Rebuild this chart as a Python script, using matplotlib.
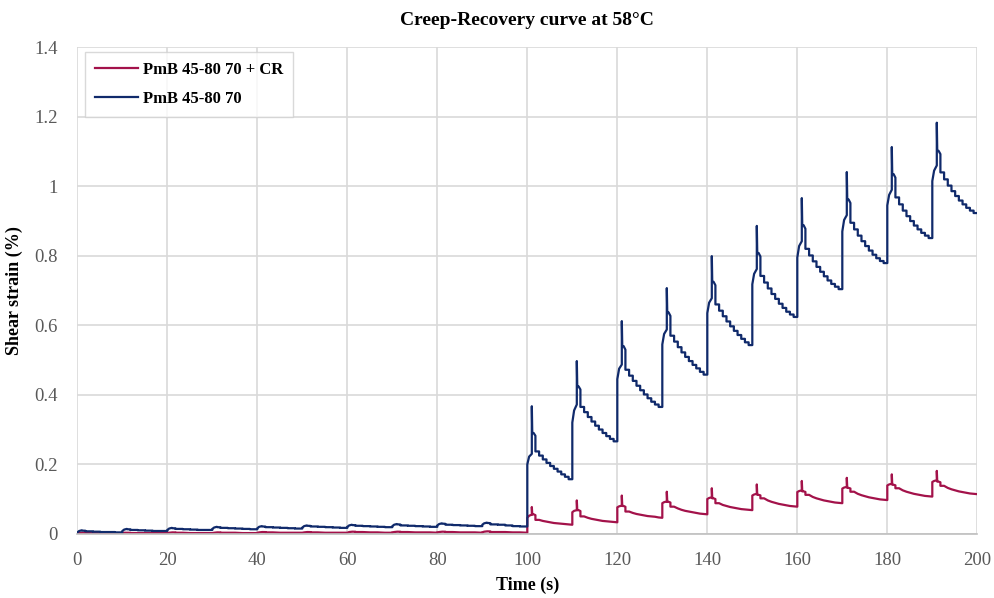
import matplotlib
matplotlib.use("Agg")
import matplotlib.pyplot as plt
from matplotlib.ticker import FuncFormatter

plt.rcParams['font.family'] = ['Liberation Serif', 'DejaVu Serif']

# cycle start times (1 s creep + 9 s recovery)
cycle_start = [0, 10, 20, 30, 40, 50, 60, 70, 80, 90,
               100, 110, 120, 130, 140, 150, 160, 170, 180, 190]

# PmB 45-80 70 (blue)
blue_creep = [
    [0.004, 0.008, 0.010], [0.008, 0.012, 0.014], [0.011, 0.015, 0.017],
    [0.014, 0.018, 0.020], [0.016, 0.020, 0.022], [0.018, 0.022, 0.024],
    [0.020, 0.024, 0.026], [0.022, 0.026, 0.028], [0.024, 0.028, 0.030],
    [0.026, 0.030, 0.032],
    [0.200, 0.222, 0.230], [0.320, 0.355, 0.372], [0.445, 0.475, 0.487],
    [0.545, 0.575, 0.588], [0.635, 0.665, 0.678], [0.718, 0.748, 0.762],
    [0.795, 0.828, 0.842], [0.870, 0.903, 0.917], [0.945, 0.975, 0.990],
    [1.015, 1.045, 1.060],
]
blue_peak = [0.010, 0.014, 0.017, 0.020, 0.022, 0.024, 0.026, 0.028, 0.030, 0.032,
             0.367, 0.497, 0.612, 0.707, 0.799, 0.886, 0.966, 1.041, 1.113, 1.183]
blue_shoulder = [0.009, 0.013, 0.016, 0.019, 0.021, 0.023, 0.025, 0.027, 0.029, 0.031,
                 0.290, 0.424, 0.540, 0.637, 0.725, 0.808, 0.888, 0.962, 1.035, 1.102]
blue_recovery = [
    [0.007, 0.006, 0.005, 0.005, 0.004],
    [0.011, 0.010, 0.009, 0.008, 0.008],
    [0.014, 0.013, 0.012, 0.011, 0.011],
    [0.017, 0.016, 0.015, 0.014, 0.013],
    [0.019, 0.018, 0.017, 0.016, 0.015],
    [0.021, 0.020, 0.019, 0.018, 0.017],
    [0.023, 0.022, 0.021, 0.020, 0.019],
    [0.024, 0.023, 0.022, 0.021, 0.020],
    [0.026, 0.025, 0.024, 0.023, 0.022],
    [0.027, 0.026, 0.024, 0.022, 0.021],
    [0.237, 0.225, 0.214, 0.204, 0.195, 0.187, 0.179, 0.171, 0.164, 0.157],
    [0.365, 0.350, 0.336, 0.323, 0.311, 0.300, 0.290, 0.281, 0.273, 0.266],
    [0.472, 0.455, 0.440, 0.426, 0.413, 0.401, 0.390, 0.380, 0.372, 0.365],
    [0.570, 0.553, 0.537, 0.522, 0.509, 0.497, 0.486, 0.476, 0.466, 0.458],
    [0.660, 0.642, 0.626, 0.611, 0.597, 0.584, 0.572, 0.561, 0.551, 0.543],
    [0.742, 0.723, 0.706, 0.690, 0.676, 0.662, 0.650, 0.639, 0.631, 0.624],
    [0.820, 0.801, 0.784, 0.768, 0.754, 0.741, 0.729, 0.719, 0.711, 0.704],
    [0.895, 0.876, 0.858, 0.842, 0.828, 0.815, 0.803, 0.793, 0.785, 0.779],
    [0.968, 0.948, 0.930, 0.914, 0.900, 0.887, 0.876, 0.866, 0.858, 0.851],
    [1.040, 1.020, 1.002, 0.986, 0.972, 0.959, 0.948, 0.938, 0.930, 0.923],
]

# PmB 45-80 70 + CR (red)
red_creep = [
    [0.001, 0.002, 0.003], [0.002, 0.003, 0.003], [0.002, 0.003, 0.004],
    [0.002, 0.003, 0.004], [0.003, 0.004, 0.005], [0.003, 0.004, 0.005],
    [0.003, 0.005, 0.006], [0.004, 0.005, 0.006], [0.004, 0.005, 0.006],
    [0.004, 0.006, 0.007],
    [0.046, 0.052, 0.055], [0.062, 0.066, 0.068], [0.076, 0.079, 0.081],
    [0.088, 0.091, 0.093], [0.100, 0.103, 0.105], [0.110, 0.113, 0.115],
    [0.120, 0.123, 0.125], [0.130, 0.133, 0.135], [0.139, 0.142, 0.144],
    [0.149, 0.152, 0.154],
]
red_peak = [0.003, 0.003, 0.004, 0.004, 0.005, 0.005, 0.006, 0.006, 0.006, 0.007,
            0.077, 0.096, 0.110, 0.121, 0.131, 0.142, 0.152, 0.161, 0.171, 0.181]
red_shoulder = [0.003, 0.003, 0.004, 0.004, 0.005, 0.005, 0.006, 0.006, 0.006, 0.007,
                0.056, 0.068, 0.080, 0.092, 0.102, 0.112, 0.122, 0.132, 0.141, 0.150]
red_recovery = [
    [0.002, 0.002, 0.001, 0.001, 0.001],
    [0.002, 0.002, 0.002, 0.002, 0.002],
    [0.003, 0.002, 0.002, 0.002, 0.002],
    [0.003, 0.003, 0.002, 0.002, 0.002],
    [0.004, 0.003, 0.003, 0.003, 0.003],
    [0.004, 0.003, 0.003, 0.003, 0.003],
    [0.005, 0.004, 0.004, 0.003, 0.003],
    [0.005, 0.004, 0.004, 0.004, 0.003],
    [0.005, 0.004, 0.004, 0.004, 0.003],
    [0.005, 0.005, 0.004, 0.004, 0.003],
    [0.040, 0.037, 0.035, 0.033, 0.031, 0.030, 0.029, 0.028, 0.027, 0.026],
    [0.050, 0.046, 0.043, 0.041, 0.039, 0.037, 0.036, 0.035, 0.034, 0.033],
    [0.064, 0.060, 0.057, 0.055, 0.053, 0.051, 0.050, 0.049, 0.047, 0.046],
    [0.078, 0.073, 0.069, 0.066, 0.064, 0.062, 0.060, 0.058, 0.057, 0.056],
    [0.088, 0.083, 0.080, 0.077, 0.075, 0.073, 0.071, 0.070, 0.069, 0.068],
    [0.102, 0.096, 0.092, 0.089, 0.086, 0.084, 0.082, 0.080, 0.079, 0.078],
    [0.112, 0.106, 0.102, 0.099, 0.096, 0.094, 0.092, 0.090, 0.089, 0.088],
    [0.121, 0.115, 0.111, 0.108, 0.105, 0.103, 0.101, 0.099, 0.098, 0.097],
    [0.131, 0.125, 0.121, 0.118, 0.115, 0.113, 0.111, 0.109, 0.108, 0.107],
    [0.138, 0.132, 0.128, 0.125, 0.122, 0.120, 0.118, 0.116, 0.115, 0.114],
]


def build_curve(creep, peak, shoulder, recovery, stepped):
    t, v = [], []
    for t0, c, p, s, rec in zip(cycle_start, creep, peak, shoulder, recovery):
        t += [t0, t0 + 0.4, t0 + 1.0, t0 + 1.0, t0 + 1.1, t0 + 1.4, t0 + 1.8]
        v += [c[0], c[1], c[2], p, s, s, s - (s - rec[0]) * 0.15]
        dt = 8.2 / len(rec)
        for k, r in enumerate(rec):
            ts = t0 + 1.8 + k * dt
            if stepped:
                t += [ts, ts + dt]
                v += [r, r]
            else:
                t += [ts + dt] if k else [ts, ts + dt]
                v += [r] if k else [r, r]
    return t, v


red_t, red_v = build_curve(red_creep, red_peak, red_shoulder, red_recovery, False)
blue_t, blue_v = build_curve(blue_creep, blue_peak, blue_shoulder, blue_recovery, True)

fig = plt.figure(figsize=(9.94, 5.98), dpi=100)
ax = fig.add_axes([0.0778, 0.1074, 0.9054, 0.8135])

ax.plot(red_t, red_v, color='#a3124a', lw=1.6, label='PmB 45-80 70 + CR')
ax.plot(blue_t, blue_v, color='#102a6b', lw=1.6, label='PmB 45-80 70')

ax.set_xlim(0, 200)
ax.set_ylim(0, 1.4)
ax.set_xticks(range(0, 201, 20))
ax.set_yticks([0, 0.2, 0.4, 0.6, 0.8, 1.0, 1.2, 1.4])
ax.yaxis.set_major_formatter(FuncFormatter(lambda v, p: f'{v:g}'))
ax.tick_params(length=0, labelsize=13.5, labelcolor='#595959')
ax.tick_params(axis='y', pad=14)
ax.tick_params(axis='x', pad=13)
ax.grid(True, color='#d9d9d9', lw=1.2)
ax.set_axisbelow(True)
for side in ['top', 'right', 'left']:
    ax.spines[side].set_visible(False)
ax.spines['bottom'].set_color('#bfbfbf')
ax.spines['bottom'].set_linewidth(1.2)

ax.set_title('Creep-Recovery curve at 58°C', fontsize=14, fontweight='bold', pad=16)
ax.set_xlabel('Time (s)', fontsize=13, fontweight='bold', labelpad=6)
ax.set_ylabel('Shear strain (%)', fontsize=13, fontweight='bold', labelpad=8)

leg = ax.legend(loc='upper left', bbox_to_anchor=(0.0086, 0.99), borderaxespad=0,
                prop={'weight': 'bold', 'size': 12}, frameon=True, fancybox=False,
                handlelength=2.6, handletextpad=0.25, labelspacing=0.75, borderpad=0.6)
leg.get_frame().set_edgecolor('#d0d0d0')
leg.get_frame().set_linewidth(1.0)

fig.savefig('out.png', dpi=100)
